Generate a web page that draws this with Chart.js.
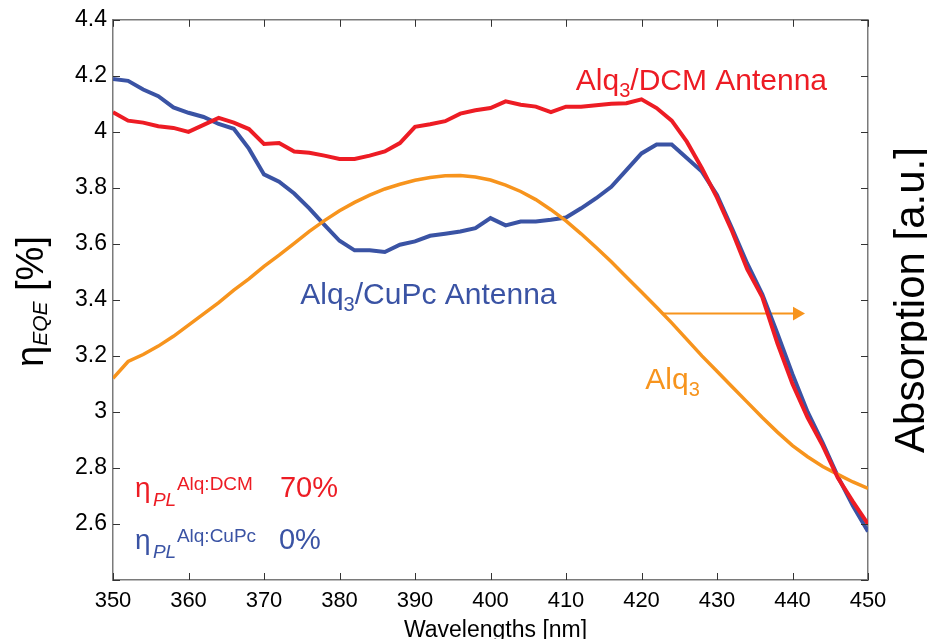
<!DOCTYPE html>
<html>
<head>
<meta charset="utf-8">
<script src="https://cdn.jsdelivr.net/npm/chart.js@4.4.1/dist/chart.umd.min.js"></script>
<style>
  html, body { margin: 0; padding: 0; background: #fff; }
  #contenedor { width: 927px; height: 639px; position: relative; }
</style>
</head>
<body>
<div id="contenedor"><canvas id="graficoEQE"></canvas></div>
<script>
// Longitudes de onda (nm)
const wavelengths = [350, 352, 354, 356, 358, 360, 362, 364, 366, 368, 370, 372, 374, 376, 378, 380, 382, 384, 386, 388,
    390, 392, 394, 396, 398, 400, 402, 404, 406, 408, 410, 412, 414, 416, 418, 420, 422, 424, 426, 428,
    430, 432, 434, 436, 438, 440, 442, 444, 446, 448, 450];

// EQE con antena Alq3/DCM (%)
const eqeDCM = [4.07, 4.04, 4.033, 4.02, 4.014, 4.0, 4.025, 4.05, 4.033, 4.01, 3.957, 3.96, 3.93, 3.925, 3.915, 3.903, 3.903, 3.915, 3.93, 3.96,
    4.018, 4.027, 4.038, 4.065, 4.077, 4.085, 4.109, 4.097, 4.09, 4.07, 4.09, 4.09, 4.095, 4.1, 4.102, 4.116, 4.085, 4.04, 3.965, 3.87,
    3.765, 3.645, 3.51, 3.41, 3.245, 3.1, 2.98, 2.88, 2.765, 2.68, 2.6];

// EQE con antena Alq3/CuPc (%)
const eqeCuPc = [4.189, 4.182, 4.151, 4.127, 4.087, 4.068, 4.053, 4.028, 4.011, 3.94, 3.848, 3.822, 3.78, 3.727, 3.668, 3.611, 3.577, 3.577, 3.571, 3.597,
    3.609, 3.629, 3.636, 3.644, 3.656, 3.692, 3.666, 3.68, 3.68, 3.686, 3.694, 3.727, 3.763, 3.804, 3.863, 3.923, 3.955, 3.955, 3.907, 3.858,
    3.775, 3.655, 3.53, 3.42, 3.28, 3.135, 3.0, 2.89, 2.77, 2.665, 2.573];

// Absorcion de Alq3 (u.a.)
const absAlq3 = [3.12, 3.18, 3.205, 3.235, 3.27, 3.31, 3.35, 3.39, 3.435, 3.475, 3.52, 3.56, 3.602, 3.645, 3.683, 3.718, 3.748, 3.774, 3.796, 3.813,
    3.827, 3.837, 3.843, 3.844, 3.839, 3.828, 3.81, 3.787, 3.758, 3.722, 3.682, 3.636, 3.587, 3.536, 3.482, 3.428, 3.374, 3.318, 3.259, 3.2,
    3.145, 3.09, 3.035, 2.98, 2.928, 2.88, 2.84, 2.805, 2.777, 2.75, 2.727];

// Flecha hacia el eje derecho
const flechaX = [422.9, 440.6];
const flechaY = [3.351, 3.351];

const ROJO = '#ED1C24';
const AZUL = '#3A53A4';
const NARANJA = '#F7941D';
const FUENTE = "'Liberation Sans', Arial, sans-serif";

function puntos(xs, ys) {
    return xs.map((x, i) => ({ x: x, y: ys[i] }));
}

//Escribir texto por piezas (subindices, superindices)
function escribir(ctx, piezas, x0, y0, color) {
    let x = x0;
    piezas.forEach(p => {
        ctx.font = (p.italic ? 'italic ' : '') + p.size + 'px ' + FUENTE;
        ctx.fillStyle = color;
        if (p.dx !== undefined) x = x0 + p.dx;
        ctx.fillText(p.t, x, y0 + (p.dy || 0));
        x += ctx.measureText(p.t).width;
    });
}

const decoraciones = {
    id: 'decoraciones',
    afterDraw(chart) {
        const { ctx, chartArea: a, scales: { x, y } } = chart;
        ctx.save();

        //Borde superior
        ctx.strokeStyle = '#7a7a7a';
        ctx.lineWidth = 1.5;
        ctx.beginPath();
        ctx.moveTo(a.left, a.top);
        ctx.lineTo(a.right, a.top);
        ctx.stroke();

        //Marcas hacia adentro
        ctx.strokeStyle = '#333';
        ctx.lineWidth = 1;
        ctx.beginPath();
        x.ticks.forEach(t => {
            const px = Math.round(x.getPixelForValue(t.value)) + 0.5;
            ctx.moveTo(px, a.bottom); ctx.lineTo(px, a.bottom - 7);
            ctx.moveTo(px, a.top); ctx.lineTo(px, a.top + 7);
        });
        y.ticks.forEach(t => {
            const py = Math.round(y.getPixelForValue(t.value)) + 0.5;
            ctx.moveTo(a.left, py); ctx.lineTo(a.left + 7, py);
            ctx.moveTo(a.right, py); ctx.lineTo(a.right - 7, py);
        });
        ctx.stroke();

        ctx.textBaseline = 'alphabetic';
        ctx.textAlign = 'left';

        //Etiquetas de las curvas
        escribir(ctx, [{ t: 'Alq', size: 30 }, { t: '3', size: 20, dy: 7 }, { t: '/DCM Antenna', size: 30 }],
            x.getPixelForValue(411.3), y.getPixelForValue(4.149), ROJO);
        escribir(ctx, [{ t: 'Alq', size: 30 }, { t: '3', size: 20, dy: 7 }, { t: '/CuPc Antenna', size: 30 }],
            x.getPixelForValue(374.8), y.getPixelForValue(3.386), AZUL);
        escribir(ctx, [{ t: 'Alq', size: 30 }, { t: '3', size: 20, dy: 7 }],
            x.getPixelForValue(420.5), y.getPixelForValue(3.083), NARANJA);

        //Eficiencias PL
        escribir(ctx, [{ t: 'η', size: 28 }, { t: 'PL', size: 19, italic: true, dx: 18, dy: 9 },
            { t: 'Alq:DCM', size: 19, dx: 42, dy: -7 }, { t: '70%', size: 29, dx: 145 }],
            x.getPixelForValue(352.9), y.getPixelForValue(2.696), ROJO);
        escribir(ctx, [{ t: 'η', size: 28 }, { t: 'PL', size: 19, italic: true, dx: 18, dy: 9 },
            { t: 'Alq:CuPc', size: 19, dx: 42, dy: -7 }, { t: '0%', size: 29, dx: 144 }],
            x.getPixelForValue(352.9), y.getPixelForValue(2.511), AZUL);

        //Titulo eje x
        ctx.textAlign = 'center';
        ctx.font = '23px ' + FUENTE;
        ctx.fillStyle = '#000';
        ctx.fillText('Wavelengths [nm]', (a.left + a.right) / 2 + 5, 637);

        //Titulo eje y izquierdo
        ctx.textAlign = 'left';
        ctx.save();
        ctx.translate(43, 367);
        ctx.rotate(-Math.PI / 2);
        escribir(ctx, [{ t: 'η', size: 38 }, { t: 'EQE', size: 21, italic: true, dy: 4 }, { t: ' [%]', size: 38 }], 0, 0, '#000');
        ctx.restore();

        //Titulo eje y derecho
        ctx.save();
        ctx.translate(924, 300);
        ctx.rotate(-Math.PI / 2);
        ctx.textAlign = 'center';
        ctx.font = '42px ' + FUENTE;
        ctx.fillStyle = '#000';
        ctx.fillText('Absorption [a.u.]', 0, 0);
        ctx.restore();

        ctx.restore();
    }
};

const ctx = document.getElementById('graficoEQE').getContext('2d');
new Chart(ctx, {
    type: 'line',
    data: {
        datasets: [
            {
                label: 'Alq3/DCM Antenna',
                data: puntos(wavelengths, eqeDCM),
                borderColor: ROJO,
                borderWidth: 4,
                pointRadius: 0,
                tension: 0,
                yAxisID: 'y'
            },
            {
                label: 'Alq3',
                data: puntos(wavelengths, absAlq3),
                borderColor: NARANJA,
                borderWidth: 3.5,
                pointRadius: 0,
                tension: 0,
                yAxisID: 'y1'
            },
            {
                label: 'Alq3/CuPc Antenna',
                data: puntos(wavelengths, eqeCuPc),
                borderColor: AZUL,
                borderWidth: 4,
                pointRadius: 0,
                tension: 0,
                yAxisID: 'y'
            },
            {
                label: 'flecha',
                data: puntos(flechaX, flechaY),
                borderColor: NARANJA,
                backgroundColor: NARANJA,
                borderWidth: 2,
                pointRadius: [0, 8],
                pointStyle: 'triangle',
                rotation: 90,
                pointBorderWidth: 0,
                yAxisID: 'y'
            }
        ]
    },
    options: {
        responsive: true,
        maintainAspectRatio: false,
        animation: false,
        layout: { padding: { top: 17, left: 0, right: 0, bottom: 0 } },
        plugins: { legend: { display: false }, tooltip: { enabled: false } },
        scales: {
            x: {
                type: 'linear',
                min: 350,
                max: 450,
                afterFit: s => { s.height = 59; },
                ticks: { stepSize: 10, color: '#000', padding: 8, font: { family: FUENTE, size: 22 } },
                grid: { drawOnChartArea: false, drawTicks: false },
                border: { display: true, color: '#7a7a7a', width: 1.5 }
            },
            y: {
                min: 2.4,
                max: 4.4,
                afterFit: s => { s.width = 113; },
                ticks: {
                    stepSize: 0.2,
                    color: '#000',
                    padding: 6,
                    font: { family: FUENTE, size: 23 },
                    callback: v => Math.abs(v - 2.4) < 1e-6 ? '' : String(Math.round(v * 10) / 10)
                },
                grid: { drawOnChartArea: false, drawTicks: false },
                border: { display: true, color: '#7a7a7a', width: 1.5 }
            },
            y1: {
                position: 'right',
                min: 2.4,
                max: 4.4,
                afterFit: s => { s.width = 59; },
                ticks: { display: false, stepSize: 0.2 },
                grid: { drawOnChartArea: false, drawTicks: false },
                border: { display: true, color: '#7a7a7a', width: 1.5 }
            }
        }
    },
    plugins: [decoraciones]
});
</script>
</body>
</html>
